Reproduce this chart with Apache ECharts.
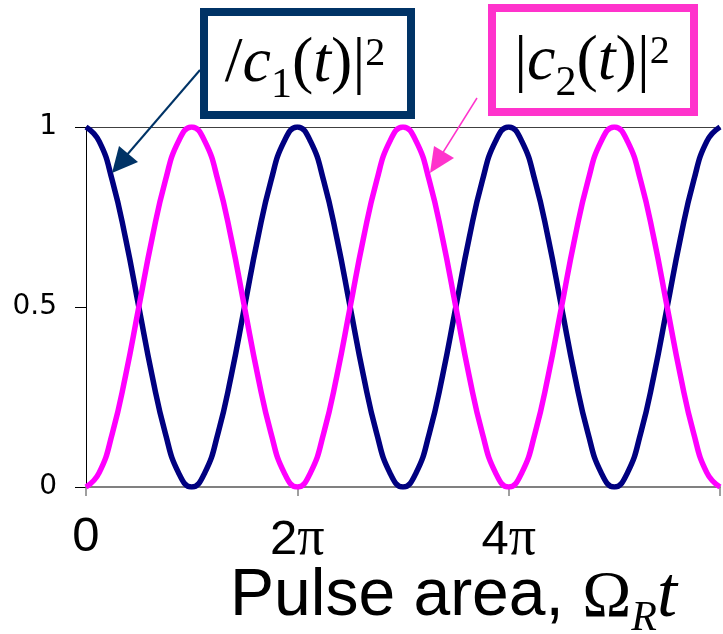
<!DOCTYPE html>
<html>
<head>
<meta charset="utf-8">
<script src="https://cdn.jsdelivr.net/npm/echarts@6/dist/echarts.min.js"></script>
<style>
  html, body { margin: 0; padding: 0; background: #ffffff; }
  #chart { width: 723px; height: 634px; }
</style>
</head>
<body>
<div id="chart"></div>
<script>
// x positions, in units of pi (pulse area / pi)
var xPi = [0, 0.125, 0.25, 0.375, 0.5, 0.625, 0.75, 0.875, 1, 1.125, 1.25, 1.375, 1.5, 1.625, 1.75, 1.875,
           2, 2.125, 2.25, 2.375, 2.5, 2.625, 2.75, 2.875, 3, 3.125, 3.25, 3.375, 3.5, 3.625, 3.75, 3.875,
           4, 4.125, 4.25, 4.375, 4.5, 4.625, 4.75, 4.875, 5, 5.125, 5.25, 5.375, 5.5, 5.625, 5.75, 5.875, 6];
// |c1(t)|^2
var c1 = [1, 0.96, 0.85, 0.69, 0.5, 0.31, 0.15, 0.04, 0, 0.04, 0.15, 0.31, 0.5, 0.69, 0.85, 0.96,
          1, 0.96, 0.85, 0.69, 0.5, 0.31, 0.15, 0.04, 0, 0.04, 0.15, 0.31, 0.5, 0.69, 0.85, 0.96,
          1, 0.96, 0.85, 0.69, 0.5, 0.31, 0.15, 0.04, 0, 0.04, 0.15, 0.31, 0.5, 0.69, 0.85, 0.96, 1];
// |c2(t)|^2
var c2 = [0, 0.04, 0.15, 0.31, 0.5, 0.69, 0.85, 0.96, 1, 0.96, 0.85, 0.69, 0.5, 0.31, 0.15, 0.04,
          0, 0.04, 0.15, 0.31, 0.5, 0.69, 0.85, 0.96, 1, 0.96, 0.85, 0.69, 0.5, 0.31, 0.15, 0.04,
          0, 0.04, 0.15, 0.31, 0.5, 0.69, 0.85, 0.96, 1, 0.96, 0.85, 0.69, 0.5, 0.31, 0.15, 0.04, 0];
// tick labels
var xTickLabels = { 0: '0', 2: '2{p|π}', 4: '4{p|π}', 6: '' };
var yTickValues = [0, 0.5, 1];

function pairs(xs, ys) {
  var out = [];
  for (var i = 0; i < xs.length; i++) out.push([xs[i], ys[i]]);
  return out;
}

var serif = '"Liberation Serif", "Times New Roman", serif';
var sans = '"Liberation Sans", Arial, sans-serif';

var chart = echarts.init(document.getElementById('chart'), null, { renderer: 'canvas' });

function eqRich(mainSize, L) {
  return {
    r:   { fontFamily: serif, fontSize: mainSize, lineHeight: L, verticalAlign: 'middle', color: '#000' },
    i:   { fontFamily: serif, fontStyle: 'italic', fontSize: mainSize, lineHeight: L, verticalAlign: 'middle', color: '#000' },
    sub: { fontFamily: serif, fontSize: 42, height: L - 44, verticalAlign: 'bottom', color: '#000' },
    sup: { fontFamily: serif, fontSize: 40, height: L - 20, verticalAlign: 'top', color: '#000' }
  };
}

var option = {
  backgroundColor: '#ffffff',
  animation: false,
  grid: { left: 86, top: 127, right: 0, bottom: 147, containLabel: false },
  xAxis: [{
    type: 'value',
    min: 0, max: 6, interval: 2,
    position: 'bottom',
    axisLine: { show: true, lineStyle: { color: '#808080', width: 2 } },
    axisTick: { show: true, length: 9, lineStyle: { color: '#808080', width: 1.5 } },
    splitLine: { show: false },
    axisLabel: {
      margin: 26,
      fontFamily: sans, fontSize: 49, color: '#000',
      formatter: function (v) { return xTickLabels[v] !== undefined ? xTickLabels[v] : ''; },
      rich: { p: { fontFamily: serif, fontSize: 54, color: '#000' } }
    }
  }, {
    type: 'value',
    min: 0, max: 6,
    position: 'top',
    axisLine: { show: true, lineStyle: { color: '#404040', width: 1 } },
    axisTick: { show: false },
    axisLabel: { show: false },
    splitLine: { show: false }
  }],
  yAxis: {
    type: 'value',
    min: 0, max: 1, interval: 0.5,
    axisLine: { show: true, lineStyle: { color: '#000', width: 1 } },
    axisTick: { show: true, length: 11, lineStyle: { color: '#000', width: 1 } },
    splitLine: { show: false },
    axisLabel: {
      margin: 29,
      fontFamily: '"DejaVu Sans", sans-serif', fontSize: 28, color: '#000',
      formatter: function (v) { return yTickValues.indexOf(v) >= 0 ? String(v) : ''; }
    }
  },
  series: [{
    name: '|c1(t)|^2',
    type: 'line',
    data: pairs(xPi, c1),
    smooth: true,
    showSymbol: false,
    lineStyle: { color: '#000080', width: 5.5 },
    z: 3
  }, {
    name: '|c2(t)|^2',
    type: 'line',
    data: pairs(xPi, c2),
    smooth: true,
    showSymbol: false,
    lineStyle: { color: '#ff00ff', width: 5.5 },
    z: 4
  }],
  graphic: [
    // arrow to |c1|^2
    { type: 'line', shape: { x1: 200, y1: 70, x2: 126, y2: 156 }, style: { stroke: '#003366', lineWidth: 2 }, z: 10 },
    { type: 'polygon', shape: { points: [[112, 173], [138, 162], [119, 146]] }, style: { fill: '#003366' }, z: 10 },
    // arrow to |c2|^2
    { type: 'line', shape: { x1: 477, y1: 98, x2: 442, y2: 154 }, style: { stroke: '#ff33cc', lineWidth: 1.5 }, z: 10 },
    { type: 'polygon', shape: { points: [[430, 173], [454, 158], [434, 146]] }, style: { fill: '#ff33cc' }, z: 10 },
    // box 1
    { type: 'rect', shape: { x: 204, y: 12, width: 207, height: 103 }, style: { fill: '#fff', stroke: '#003366', lineWidth: 8 }, z: 10 },
    { type: 'text', x: 305, y: 64, z: 11,
      style: {
        text: '{r|/}{i|c}{sub|1}{r|(}{i|t}{r|)}{r||}{sup|2}',
        x: 0, y: 0, align: 'center', verticalAlign: 'middle',
        rich: eqRich(64, 90)
      } },
    // box 2
    { type: 'rect', shape: { x: 492, y: 8, width: 202, height: 104 }, style: { fill: '#fff', stroke: '#ff33cc', lineWidth: 8 }, z: 10 },
    { type: 'text', x: 592, y: 62, z: 11,
      style: {
        text: '{r||}{i|c}{sub|2}{r|(}{i|t}{r|)}{r||}{sup|2}',
        x: 0, y: 0, align: 'center', verticalAlign: 'middle',
        rich: eqRich(64, 90)
      } },
    // axis title
    { type: 'text', x: 230, y: 597, z: 11,
      style: {
        text: '{a|Pulse area, }{o|Ω}{s|R}{t|t}',
        x: 0, y: 0, align: 'left', verticalAlign: 'middle',
        rich: {
          a: { fontFamily: sans, fontSize: 66, lineHeight: 100, verticalAlign: 'middle', color: '#000' },
          o: { fontFamily: serif, fontSize: 66, height: 96, verticalAlign: 'bottom', color: '#000' },
          s: { fontFamily: serif, fontStyle: 'italic', fontSize: 42, height: 56, verticalAlign: 'bottom', color: '#000' },
          t: { fontFamily: serif, fontStyle: 'italic', fontSize: 72, height: 100, verticalAlign: 'bottom', color: '#000' }
        }
      } }
  ]
};
chart.setOption(option);
</script>
</body>
</html>
